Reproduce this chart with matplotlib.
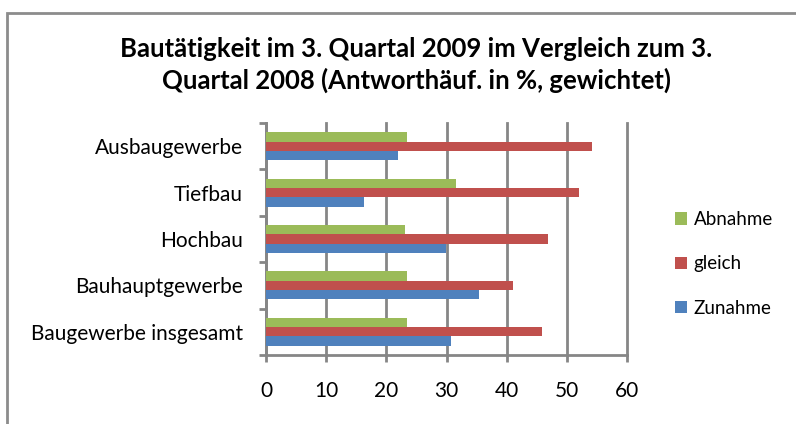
import matplotlib.pyplot as plt
import numpy as np

# data
categories = ["Baugewerbe insgesamt", "Bauhauptgewerbe", "Hochbau", "Tiefbau", "Ausbaugewerbe"]
zunahme = [30.7, 35.4, 29.9, 16.3, 22.0]
gleich = [45.8, 41.0, 46.9, 52.0, 54.2]
abnahme = [23.4, 23.4, 23.1, 31.5, 23.4]

plt.rcParams['font.family'] = ['Lato', 'DejaVu Sans']

fig = plt.figure(figsize=(7.96, 4.24), dpi=100)
ax = fig.add_axes([266/796, 1-355/424, (627-266)/796, (355-123)/424])

# outer chart border
fig.patches.append(plt.Rectangle((7/796, -0.1), 1.2, 1.1 - 13/424,
                                 transform=fig.transFigure, fill=False,
                                 edgecolor='#8c8c8c', linewidth=2))

y = np.arange(len(categories))
h = 0.2
ax.barh(y - h, zunahme, h, color='#4F81BD', label='Zunahme', zorder=3)
ax.barh(y, gleich, h, color='#C0504D', label='gleich', zorder=3)
ax.barh(y + h, abnahme, h, color='#9BBB59', label='Abnahme', zorder=3)

ax.set_xlim(0, 60)
ax.set_ylim(-0.5, len(categories) - 0.5)
ax.set_xticks(range(0, 61, 10))
ax.set_yticks(y)
ax.set_yticklabels(categories)
ax.set_yticks(np.arange(-0.5, len(categories), 1), minor=True)
ax.tick_params(axis='y', which='major', length=0, pad=16.5, labelsize=15)
ax.tick_params(axis='y', which='minor', length=5, width=2, color='#868686', direction='out')
ax.tick_params(axis='x', length=5, width=2, color='#868686', labelsize=15, pad=14)

ax.grid(axis='x', color='#868686', linewidth=2, zorder=0)
for gl in ax.get_xgridlines():
    gl.set_clip_on(False)
for s in ['top', 'right']:
    ax.spines[s].set_visible(False)
ax.spines['left'].set_color('#868686')
ax.spines['left'].set_linewidth(2)
ax.spines['bottom'].set_color('#868686')
ax.spines['bottom'].set_linewidth(2)

fig.suptitle("Bautätigkeit im 3. Quartal 2009 im Vergleich zum 3.\nQuartal 2008 (Antworthäuf. in %, gewichtet)",
             x=416/796, y=1-37/424, fontsize=18.5, fontweight='bold', linespacing=1.3)

handles, labels = ax.get_legend_handles_labels()
fig.legend(handles[::-1], labels[::-1], loc='center left', bbox_to_anchor=(675/796, 1-264/424),
           frameon=False, fontsize=13.5, handlelength=0.65, handleheight=0.65,
           handletextpad=0.35, labelspacing=1.45, borderpad=0, borderaxespad=0)

fig.savefig('out.png', dpi=100)
